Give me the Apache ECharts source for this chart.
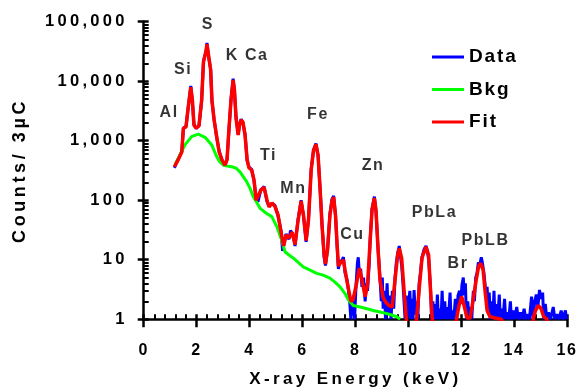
<!DOCTYPE html>
<html>
<head>
<meta charset="utf-8">
<script src="https://cdn.jsdelivr.net/npm/echarts@6/dist/echarts.min.js"></script>
<style>
  html, body { margin: 0; padding: 0; background: #fff; }
  #chart { width: 577px; height: 389px; }
</style>
</head>
<body>
<div id="chart"></div>
<script>
// X-ray energy (keV) and counts per 3 uC
const dataCounts = [
  [1.16,350],[1.30,490],[1.44,660],[1.50,1600],[1.60,1750],[1.67,3200],[1.78,8300],[1.84,4600],[1.90,1900],[1.98,1600],
  [2.09,1800],[2.19,4600],[2.26,22000],[2.36,32000],[2.39,44000],[2.45,26000],[2.53,16000],[2.58,4600],[2.66,2300],[2.75,1200],
  [2.85,680],[2.96,460],[3.07,380],[3.15,490],[3.22,1450],[3.30,5000],[3.38,11000],[3.43,6900],[3.49,2500],[3.57,1300],
  [3.62,1800],[3.68,2300],[3.75,2000],[3.83,1300],[3.91,460],[3.98,360],[4.08,330],[4.17,210],[4.25,105],[4.32,95],
  [4.43,150],[4.55,170],[4.66,95],[4.74,80],[4.85,88],[4.96,82],[5.08,54],[5.19,31],[5.25,14],[5.31,13],
  [5.38,27],[5.45,28],[5.49,22],[5.55,31],[5.61,30],[5.66,25],[5.72,17],[5.83,46],[5.95,100],[6.04,54],
  [6.14,20],[6.23,49],[6.33,330],[6.42,700],[6.51,900],[6.59,560],[6.67,150],[6.74,40],[6.82,11],[6.87,8],
  [6.95,15],[7.04,60],[7.12,105],[7.18,118],[7.25,55],[7.31,17],[7.36,7],[7.42,10],[7.46,9],[7.55,11],
  [7.61,6],[7.69,4.5],[7.78,2.2],[7.83,1],[7.88,1],[7.93,2.5],[7.97,1],[8.03,4],[8.08,9],[8.11,11],
  [8.15,6],[8.20,7],[8.25,3.5],[8.31,5],[8.37,2],[8.42,4],[8.46,3],[8.52,8],[8.56,22],[8.63,72],
  [8.72,115],[8.78,65],[8.86,15],[8.93,5],[8.98,2],[9.02,5],[9.05,1.5],[9.10,3],[9.14,1],[9.20,4],
  [9.24,1.2],[9.30,2.5],[9.35,1],[9.40,3],[9.45,1.5],[9.50,5],[9.55,9],[9.60,13],[9.66,17],[9.71,11],
  [9.75,8],[9.80,4],[9.84,2],[9.88,1],[9.92,2.5],[9.96,1],[10.02,1],[10.06,3],[10.10,1],[10.14,2.2],
  [10.18,1],[10.22,3.1],[10.27,1.2],[10.32,2],[10.36,1],[10.41,4],[10.46,6],[10.52,11],[10.60,15],[10.67,17],
  [10.72,14],[10.77,10],[10.84,3.5],[10.88,1],[10.93,2],[10.97,1],[11.02,1.8],[11.06,1],[11.10,2.6],[11.14,1],
  [11.20,1.5],[11.24,1],[11.28,3],[11.32,1],[11.38,2],[11.42,1],[11.48,1.6],[11.52,1],[11.58,2.8],[11.62,1],
  [11.68,1.4],[11.72,1],[11.78,2.2],[11.83,1],[11.88,2.5],[11.94,3],[11.98,1.8],[12.03,3.8],[12.08,5],[12.12,2.5],
  [12.16,4],[12.20,1],[12.25,2],[12.30,1],[12.35,1.6],[12.40,1],[12.46,3],[12.50,2],[12.55,5],[12.60,6],
  [12.65,9],[12.70,8],[12.76,11],[12.80,9],[12.86,6],[12.90,4],[12.94,2.5],[12.98,3.5],[13.02,1.5],[13.06,2.8],
  [13.10,1],[13.15,2],[13.20,1],[13.24,3],[13.28,1],[13.34,1.8],[13.38,1],[13.44,2.6],[13.48,1],[13.54,1.5],
  [13.58,1],[13.64,2.2],[13.68,1],[13.74,1.3],[13.80,1],[13.86,2],[13.90,1],[13.96,1.4],[14.02,1],[14.10,1.6],
  [14.16,1],[14.24,1.3],[14.30,1],[14.38,1.5],[14.44,1],[14.52,1.2],[14.58,1],[14.66,2.4],[14.72,1],[14.78,2],
  [14.84,2.6],[14.90,1.6],[14.96,3.1],[15.02,2.2],[15.08,2.8],[15.12,1],[15.18,1.8],[15.24,1],[15.30,1.3],[15.38,1],
  [15.48,1.6],[15.54,1],[15.62,1.2],[15.70,1],[15.78,1.4],[15.84,1],[15.90,1],[15.94,1.4],[15.98,1]
];

const bkgCounts = [
  [1.18,390],[1.37,575],[1.56,850],[1.81,1170],[2.06,1290],[2.32,1140],[2.57,850],[2.76,540],[2.88,440],[3.01,390],
  [3.15,375],[3.33,365],[3.49,345],[3.64,300],[3.89,205],[4.02,158],[4.14,115],[4.40,73],[4.62,61],[4.84,53],
  [5.03,36],[5.22,21],[5.34,13.6],[5.49,12],[5.66,10.6],[5.83,9.1],[6.03,7.6],[6.29,6.7],[6.54,5.9],[6.78,5.5],
  [7.04,4.9],[7.23,4.2],[7.42,3.5],[7.61,2.7],[7.74,2.1],[7.92,1.7],[8.18,1.6],[8.44,1.5],[8.68,1.4],[9.01,1.3],
  [9.31,1.2],[9.57,1.1],[9.69,1.0]
];

const fitCounts = [
  [1.16,365],[1.30,475],[1.44,645],[1.50,1630],[1.60,1700],[1.67,3300],[1.78,7950],[1.84,4800],[1.90,1820],[1.98,1630],
  [2.09,1770],[2.19,4800],[2.26,21000],[2.36,33000],[2.39,42000],[2.45,27500],[2.53,15500],[2.58,4800],[2.66,2250],[2.75,1250],
  [2.85,650],[2.96,475],[3.07,390],[3.15,475],[3.22,1500],[3.30,4800],[3.38,10500],[3.43,7100],[3.49,2400],[3.57,1250],
  [3.62,1830],[3.68,2230],[3.75,2050],[3.83,1250],[3.91,475],[3.98,350],[4.08,322],[4.17,220],[4.25,100],[4.32,100],
  [4.43,148],[4.55,165],[4.66,100],[4.74,77],[4.85,90],[4.96,79],[5.08,56],[5.19,29],[5.29,17],[5.38,26],
  [5.49,23],[5.61,29],[5.72,18],[5.83,44],[5.95,97],[6.04,56],[6.14,21],[6.23,47],[6.33,322],[6.42,690],
  [6.51,870],[6.59,575],[6.67,148],[6.74,38],[6.82,12],[6.87,8.5],[6.95,14.6],[7.04,56],[7.12,100],[7.18,112],
  [7.25,56],[7.31,18],[7.36,7.8],[7.46,9.1],[7.55,9.9],[7.61,6.7],[7.69,4.2],[7.83,2.0],[7.91,2.1],[8.03,3.7],
  [8.15,7.2],[8.25,4.6],[8.37,2.4],[8.46,3.8],[8.56,21],[8.63,68],[8.72,108],[8.78,68],[8.86,14.5],[8.93,4.6],
  [9.05,2.3],[9.16,1.9],[9.27,1.7],[9.39,1.6],[9.50,4.6],[9.60,12],[9.66,15.5],[9.75,10.7],[9.84,3.1],[9.92,1.1],
  [9.98,0.6],[10.10,0.4],[10.25,0.6],[10.32,1.1],[10.41,3.1],[10.52,10.7],[10.67,16.5],[10.77,12],[10.84,3.1],[10.90,1.1],
  [10.96,0.6],[11.40,0.4],[11.78,0.6],[11.83,1.05],[11.92,1.7],[12.02,2.4],[12.11,1.7],[12.22,1.05],[12.34,1.05],[12.45,2.1],
  [12.57,4.6],[12.66,7.8],[12.74,8.7],[12.83,6.7],[12.90,3.1],[12.98,1.4],[13.09,1.1],[13.28,1.05],[13.53,1.0],[13.60,0.6],
  [14.20,0.4],[14.68,0.6],[14.73,1.05],[14.81,1.4],[14.92,1.7],[15.02,1.5],[15.12,1.1],[15.24,1.0],[15.30,0.6]
];

// element labels, placed at (keV, counts)
const peakNames = ['Al', 'Si', 'S', 'K Ca', 'Ti', 'Mn', 'Fe', 'Cu', 'Zn', 'PbLa', 'Br', 'PbLB'];
const peakEnergy = [0.96, 1.49, 2.43, 3.91, 4.72, 5.66, 6.59, 7.89, 8.67, 10.99, 11.88, 12.92];
const peakCounts = [2920, 15400, 91000, 26500, 555, 155, 2700, 26, 375, 63, 8.5, 20.6];

// the original uses widely spaced bold lettering: add canvas letter spacing by font size
const fillTextOrig = CanvasRenderingContext2D.prototype.fillText;
CanvasRenderingContext2D.prototype.fillText = function (text, x, y, maxWidth) {
  const m = /([\d.]+)px/.exec(this.font);
  const size = m ? parseFloat(m[1]) : 12;
  const em = (size > 16 && size < 18.5) ? 0.2 : 0.1;
  this.letterSpacing = (size * em).toFixed(2) + 'px';
  if (maxWidth === undefined) fillTextOrig.call(this, text, x, y);
  else fillTextOrig.call(this, text, x, y, maxWidth);
  this.letterSpacing = '0px';
};

const FONT = 'Liberation Sans';
const chart = echarts.init(document.getElementById('chart'), null, { renderer: 'canvas' });

const axisLine = { show: true, lineStyle: { color: '#000', width: 2.5 } };

const option = {
  animation: false,
  backgroundColor: '#fff',
  grid: { left: 143.7, right: 10, top: 21.7, bottom: 69.8, outerBoundsMode: 'none' },
  legend: {
    data: ['Data', 'Bkg', 'Fit'],
    orient: 'vertical',
    left: 427,
    top: 42,
    icon: 'rect',
    itemWidth: 32,
    itemHeight: 3,
    itemGap: 12.5,
    textStyle: { fontFamily: FONT, fontWeight: 'bold', fontSize: 19, lineHeight: 20, color: '#000' }
  },
  xAxis: [
    {
      type: 'value', min: 0, max: 16, interval: 2, position: 'bottom',
      name: 'X-ray Energy (keV)', nameLocation: 'middle', nameGap: 52,
      nameTextStyle: { fontFamily: FONT, fontWeight: 'bold', fontSize: 17, color: '#000' },
      axisLine: axisLine,
      axisTick: { show: true, inside: false, length: 8, lineStyle: { color: '#000', width: 2.5 } },
      axisLabel: { margin: 23, fontFamily: FONT, fontWeight: 'bold', fontSize: 16, color: '#000' },
      splitLine: { show: false }
    },
    {
      type: 'value', min: 0, max: 16, interval: 2, position: 'bottom',
      axisLine: { show: false },
      axisTick: { show: true, inside: true, length: 5, lineStyle: { color: '#000', width: 2.5 } },
      minorTick: { show: true, splitNumber: 5, length: 5, lineStyle: { color: '#000', width: 2 } },
      axisLabel: { show: false },
      splitLine: { show: false }
    }
  ],
  yAxis: [
    {
      type: 'log', logBase: 10, min: 1, max: 100000, position: 'left',
      name: 'Counts/ 3\u00B5C', nameLocation: 'middle', nameGap: 115,
      nameTextStyle: { fontFamily: FONT, fontWeight: 'bold', fontSize: 18, color: '#000' },
      axisLine: axisLine,
      axisTick: { show: true, inside: false, length: 6, lineStyle: { color: '#000', width: 2.5 } },
      axisLabel: {
        margin: 16, fontFamily: FONT, fontWeight: 'bold', fontSize: 16.5, color: '#000',
        formatter: v => Math.round(v).toLocaleString('en-US')
      },
      splitLine: { show: false }
    },
    {
      type: 'log', logBase: 10, min: 1, max: 100000, position: 'left',
      axisLine: { show: false },
      axisTick: { show: true, inside: true, length: 5, lineStyle: { color: '#000', width: 2.5 } },
      minorTick: { show: true, splitNumber: 9, length: 5, lineStyle: { color: '#000', width: 2 } },
      axisLabel: { show: false },
      splitLine: { show: false }
    }
  ],
  series: [
    {
      name: 'Data', type: 'line', data: dataCounts, showSymbol: false, symbol: 'none',
      color: '#0000ff', lineStyle: { color: '#0000ff', width: 3 }, z: 2
    },
    {
      name: 'Bkg', type: 'line', data: bkgCounts, showSymbol: false, symbol: 'none',
      color: '#00ff00', lineStyle: { color: '#00ff00', width: 3 }, z: 3
    },
    {
      name: 'Fit', type: 'line', data: fitCounts, showSymbol: false, symbol: 'none',
      color: '#ff0000', lineStyle: { color: '#ff0000', width: 3.5 }, z: 4
    },
    {
      type: 'scatter', silent: true, symbolSize: 0,
      data: peakNames.map((n, i) => [peakEnergy[i], peakCounts[i], n]),
      label: {
        show: true, position: 'inside', formatter: p => p.value[2],
        fontFamily: FONT, fontWeight: 'bold', fontSize: 16, color: '#000'
      },
      z: 5
    }
  ]
};

chart.setOption(option);
window.addEventListener('resize', () => chart.resize());
</script>
</body>
</html>
